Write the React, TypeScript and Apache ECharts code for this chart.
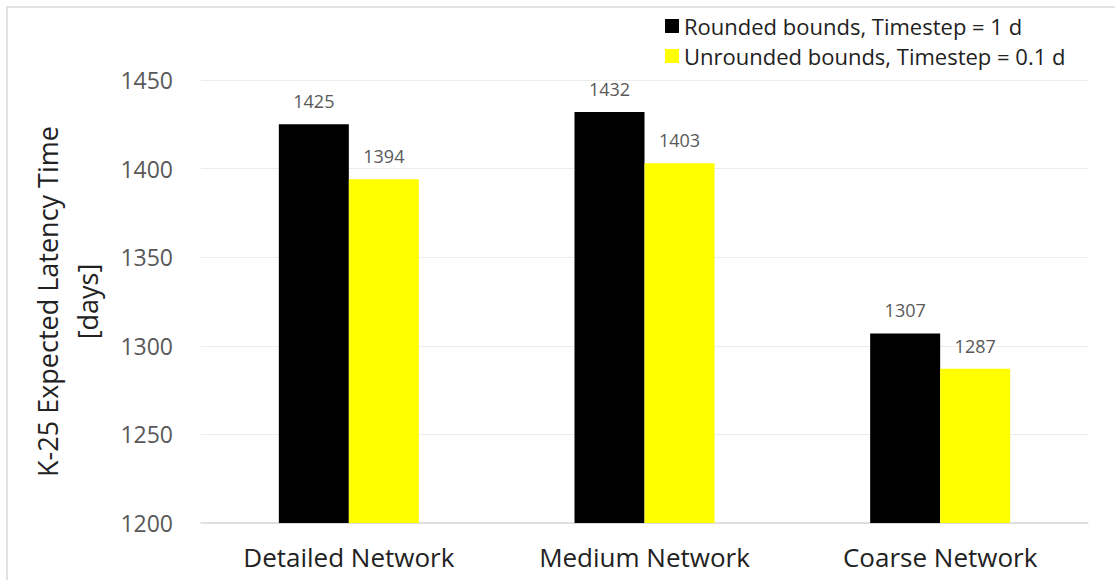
import React, { useEffect, useRef } from "react";
import * as echarts from "echarts";

const categories = ["Detailed Network", "Medium Network", "Coarse Network"];
const roundedName = "Rounded bounds, Timestep = 1 d";
const unroundedName = "Unrounded bounds, Timestep = 0.1 d";
const roundedValues = [1425, 1432, 1307];
const unroundedValues = [1394, 1403, 1287];
const yMin = 1200;
const yMax = 1450;
const yStep = 50;

export default function App() {
  const ref = useRef<HTMLDivElement>(null);

  useEffect(() => {
    if (!ref.current) return;
    const chart = echarts.init(ref.current, null, { renderer: "svg" });
    const font = "Open Sans, Liberation Sans, sans-serif";
    const barLabel = {
      show: true,
      position: "top",
      distance: 14,
      fontSize: 18,
      color: "#595959",
      fontFamily: font,
    };
    chart.setOption({
      animation: false,
      backgroundColor: "#ffffff",
      textStyle: { fontFamily: font },
      graphic: [
        {
          type: "rect",
          shape: { x: 7, y: 7, width: 1120, height: 590 },
          style: { fill: "none", stroke: "#d9d9d9", lineWidth: 1.5 },
          silent: true,
        },
      ],
      legend: {
        orient: "vertical",
        left: 660,
        top: 10,
        icon: "rect",
        itemWidth: 14,
        itemHeight: 14,
        itemGap: 8,
        textStyle: { fontSize: 22, color: "#222222", fontFamily: font },
        data: [roundedName, unroundedName],
      },
      grid: { left: 201, right: 27, top: 80, bottom: 57 },
      xAxis: {
        type: "category",
        data: categories,
        axisTick: { show: false },
        axisLine: { lineStyle: { color: "#d9d9d9", width: 1.5 } },
        axisLabel: { fontSize: 26, color: "#222222", margin: 21, fontFamily: font },
      },
      yAxis: {
        type: "value",
        min: yMin,
        max: yMax,
        interval: yStep,
        name: "K-25 Expected Latency Time\n[days]",
        nameLocation: "middle",
        nameRotate: 90,
        nameGap: 94,
        nameTextStyle: { fontSize: 27, color: "#222222", lineHeight: 40, fontFamily: font },
        axisLine: { show: false },
        axisTick: { show: false },
        axisLabel: {
          fontSize: 23,
          color: "#595959",
          margin: 28,
          fontFamily: font,
          formatter: (v: number) => String(v),
        },
        splitLine: { lineStyle: { color: "#ececec", width: 1 } },
      },
      series: [
        {
          name: roundedName,
          type: "bar",
          data: roundedValues,
          barWidth: 70,
          barGap: "0%",
          itemStyle: { color: "#000000" },
          label: barLabel,
        },
        {
          name: unroundedName,
          type: "bar",
          data: unroundedValues,
          barWidth: 70,
          barGap: "0%",
          itemStyle: { color: "#ffff00" },
          label: barLabel,
        },
      ],
    });
    return () => chart.dispose();
  }, []);

  return (
    <div
      ref={ref}
      style={{ position: "fixed", left: 0, top: 0, width: 1115, height: 580 }}
    />
  );
}
